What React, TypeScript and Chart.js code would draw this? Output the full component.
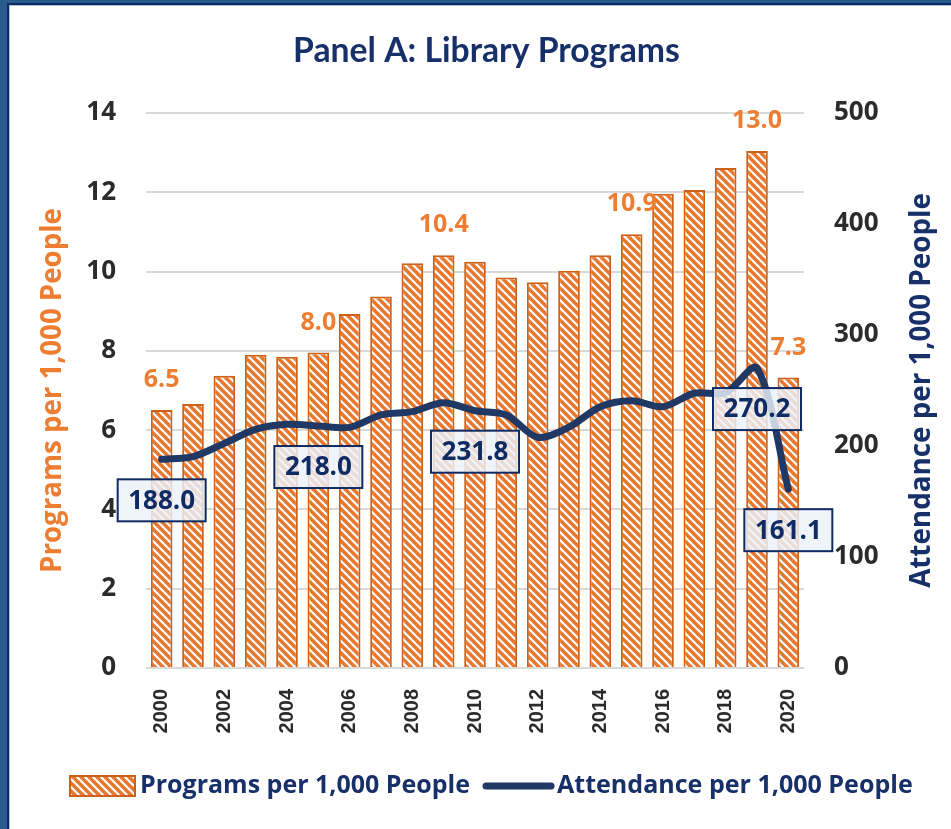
import React, { useEffect, useRef } from 'react';
import { Chart, registerables } from 'chart.js';

Chart.register(...registerables);

// ---------- data ----------
const years = ['2000', '2001', '2002', '2003', '2004', '2005', '2006', '2007', '2008', '2009', '2010',
  '2011', '2012', '2013', '2014', '2015', '2016', '2017', '2018', '2019', '2020'];
const programsPer1000 = [6.51, 6.66, 7.37, 7.9, 7.85, 7.96, 8.93, 9.37, 10.21, 10.41, 10.25,
  9.85, 9.73, 10.02, 10.41, 10.94, 11.96, 12.06, 12.61, 13.04, 7.33];
const attendancePer1000 = [188.0, 190.4, 202.4, 215.0, 219.5, 218.0, 216.8, 228.0, 231.0, 239.0, 231.8,
  228.0, 207.8, 217.0, 235.4, 240.8, 235.4, 247.5, 248.0, 270.2, 161.1];
const programLabelYears = ['2000', '2005', '2009', '2015', '2019', '2020'];
const attendanceLabelYears = ['2000', '2005', '2010', '2019', '2020'];
const leftAxisRange = [0, 14];
const leftAxisStep = 2;
const rightAxisRange = [0, 500];
const rightAxisStep = 100;

const TITLE = 'Panel A: Library Programs';
const PROGRAMS_NAME = 'Programs per 1,000 People';
const ATTEND_NAME = 'Attendance per 1,000 People';

// ---------- styles ----------
const FONT = '"Open Sans", "Noto Sans", sans-serif';
const TITLE_FONT = 'Lato, "Open Sans", sans-serif';
const TICK_FONT = '"Liberation Sans", Arial, sans-serif';
const NAVY = '#17306A';
const LINE_NAVY = '#1F3864';
const ORANGE_TEXT = '#ED7D31';
const STRIPE = '#E8772E';
const BAR_BORDER = '#CC6218';
const TICK_COLOR = '#2B2B2B';
const LEFT_PAD = 22;

function makeHatch(): CanvasPattern | string {
  const c = document.createElement('canvas');
  c.width = 8;
  c.height = 8;
  const g = c.getContext('2d');
  if (!g) return STRIPE;
  g.fillStyle = '#ffffff';
  g.fillRect(0, 0, 8, 8);
  g.strokeStyle = STRIPE;
  g.lineWidth = 3.4;
  for (const x0 of [-8, 0, 8]) {
    g.beginPath();
    g.moveTo(x0 - 2, -2);
    g.lineTo(x0 + 10, 10);
    g.stroke();
  }
  return g.createPattern(c, 'repeat') || STRIPE;
}

// font size so that text spans a given length
function fitSize(ctx: CanvasRenderingContext2D, text: string, family: string, target: number): number {
  ctx.save();
  ctx.font = `bold 20px ${family}`;
  const w = ctx.measureText(text).width || 1;
  ctx.restore();
  return (20 * target) / w;
}

function measureTitleSize(): number {
  const c = document.createElement('canvas');
  const g = c.getContext('2d');
  if (!g) return 32;
  return fitSize(g, TITLE, TITLE_FONT, 387);
}

export default function App() {
  const ref = useRef<HTMLCanvasElement | null>(null);

  useEffect(() => {
    const canvas = ref.current;
    if (!canvas) return;
    const hatch = makeHatch();
    const titleSize = measureTitleSize();
    const titleLine = titleSize * 1.2;
    const titleTop = 51 - titleLine / 2;
    const titleBottom = 113 - titleTop - titleLine;

    const customPlugin = {
      id: 'customDraw',
      beforeDraw(chart: any) {
        const { ctx, width, height } = chart;
        ctx.save();
        ctx.fillStyle = '#ffffff';
        ctx.fillRect(0, 0, width, height);
        ctx.restore();
      },
      afterDatasetsDraw(chart: any) {
        const ctx = chart.ctx as CanvasRenderingContext2D;
        const lineMeta = chart.getDatasetMeta(0);
        const barMeta = chart.getDatasetMeta(1);
        ctx.save();
        ctx.font = `bold 25px ${FONT}`;
        ctx.fillStyle = ORANGE_TEXT;
        ctx.textAlign = 'center';
        ctx.textBaseline = 'middle';
        programLabelYears.forEach((yr) => {
          const i = years.indexOf(yr);
          const el = barMeta.data[i];
          if (!el) return;
          ctx.fillText(programsPer1000[i].toFixed(1), el.x, el.y - 30);
        });
        attendanceLabelYears.forEach((yr) => {
          const i = years.indexOf(yr);
          const el = lineMeta.data[i];
          if (!el) return;
          const cx = el.x;
          const cy = el.y + 41;
          const w = 88;
          const h = 42;
          ctx.fillStyle = 'rgba(236,242,250,0.82)';
          ctx.fillRect(cx - w / 2, cy - h / 2, w, h);
          ctx.strokeStyle = '#0F2B63';
          ctx.lineWidth = 2;
          ctx.strokeRect(cx - w / 2, cy - h / 2, w, h);
          ctx.fillStyle = '#0F2B63';
          ctx.font = `bold 26px ${FONT}`;
          ctx.fillText(attendancePer1000[i].toFixed(1), cx, cy + 1);
        });
        ctx.restore();
      },
      afterDraw(chart: any) {
        const ctx = chart.ctx as CanvasRenderingContext2D;
        const area = chart.chartArea;
        const midY = (area.top + area.bottom) / 2;
        ctx.save();
        ctx.textAlign = 'center';
        ctx.textBaseline = 'middle';
        // left axis title
        ctx.font = `bold ${fitSize(ctx, PROGRAMS_NAME, FONT, 365)}px ${FONT}`;
        ctx.fillStyle = ORANGE_TEXT;
        ctx.save();
        ctx.translate(53, midY);
        ctx.rotate(-Math.PI / 2);
        ctx.fillText(PROGRAMS_NAME, 0, 0);
        ctx.restore();
        // right axis title
        ctx.font = `bold ${fitSize(ctx, ATTEND_NAME, FONT, 395)}px ${FONT}`;
        ctx.fillStyle = NAVY;
        ctx.save();
        ctx.translate(922, midY);
        ctx.rotate(-Math.PI / 2);
        ctx.fillText(ATTEND_NAME, 0, 0);
        ctx.restore();

        // legend
        const ly = 786;
        ctx.fillStyle = hatch as any;
        ctx.fillRect(70, ly - 10, 65, 20);
        ctx.strokeStyle = BAR_BORDER;
        ctx.lineWidth = 2;
        ctx.strokeRect(70, ly - 10, 65, 20);
        ctx.fillStyle = NAVY;
        ctx.textAlign = 'left';
        ctx.font = `bold ${fitSize(ctx, PROGRAMS_NAME, FONT, 330)}px ${FONT}`;
        ctx.fillText(PROGRAMS_NAME, 140, ly);
        ctx.strokeStyle = LINE_NAVY;
        ctx.lineWidth = 7;
        ctx.lineCap = 'round';
        ctx.beginPath();
        ctx.moveTo(486, ly);
        ctx.lineTo(551, ly);
        ctx.stroke();
        ctx.font = `bold ${fitSize(ctx, ATTEND_NAME, FONT, 356)}px ${FONT}`;
        ctx.fillText(ATTEND_NAME, 557, ly);

        // frame
        ctx.fillStyle = '#2A5B8A';
        ctx.fillRect(0, 0, 8, chart.height);
        ctx.fillRect(0, 0, chart.width, 3);
        ctx.fillStyle = '#0B2C62';
        ctx.fillRect(7, 3, 2, chart.height);
        ctx.fillRect(7, 3, chart.width, 2);
        ctx.fillStyle = '#A9C0DE';
        ctx.fillRect(9, 5, 1, chart.height);
        ctx.fillRect(9, 5, chart.width, 1);
        ctx.restore();
      },
    };

    const chart = new Chart(canvas, {
      type: 'bar',
      data: {
        labels: years,
        datasets: [
          {
            type: 'line',
            label: ATTEND_NAME,
            data: attendancePer1000,
            yAxisID: 'y1',
            borderColor: LINE_NAVY,
            borderWidth: 7,
            tension: 0.3,
            pointRadius: 0,
            borderCapStyle: 'round',
            borderJoinStyle: 'round',
            order: 0,
          } as any,
          {
            type: 'bar',
            label: PROGRAMS_NAME,
            data: programsPer1000,
            yAxisID: 'y',
            backgroundColor: hatch as any,
            borderColor: BAR_BORDER,
            borderWidth: 2,
            barPercentage: 0.69,
            categoryPercentage: 1,
            order: 1,
          } as any,
        ],
      },
      options: {
        responsive: false,
        animation: false,
        layout: { padding: { left: LEFT_PAD, right: 0, top: 0, bottom: 0 } },
        plugins: {
          legend: { display: false },
          tooltip: { enabled: false },
          title: {
            display: true,
            text: TITLE,
            color: NAVY,
            font: { family: TITLE_FONT, size: titleSize, weight: 'bold', lineHeight: 1.2 },
            padding: { top: titleTop, bottom: titleBottom },
          },
        },
        scales: {
          x: {
            grid: { display: false, drawTicks: false },
            border: { display: false },
            ticks: {
              autoSkip: false,
              minRotation: 90,
              maxRotation: 90,
              padding: 21,
              color: TICK_COLOR,
              font: { family: TICK_FONT, size: 20, weight: 'bold' },
              callback: (_v: any, i: number) => (i % 2 === 0 ? years[i] : ''),
            },
            afterFit: (s: any) => { s.height = 161; },
          },
          y: {
            position: 'left',
            min: leftAxisRange[0],
            max: leftAxisRange[1],
            grid: { color: '#D9D9D9', lineWidth: 2, drawTicks: false },
            border: { display: false },
            ticks: {
              stepSize: leftAxisStep,
              padding: 30,
              color: TICK_COLOR,
              font: { family: FONT, size: 26, weight: 'bold' },
            },
            afterFit: (s: any) => { s.width = 146 - LEFT_PAD; },
          },
          y1: {
            position: 'right',
            min: rightAxisRange[0],
            max: rightAxisRange[1],
            grid: { display: false, drawTicks: false },
            border: { display: false },
            ticks: {
              stepSize: rightAxisStep,
              padding: 30,
              color: TICK_COLOR,
              font: { family: FONT, size: 26, weight: 'bold' },
            },
            afterFit: (s: any) => { s.width = 147; },
          },
        },
      } as any,
      plugins: [customPlugin],
    });

    return () => chart.destroy();
  }, []);

  return (
    <div style={{ position: 'absolute', left: 0, top: 0, width: 951, height: 829, background: '#fff' }}>
      <canvas ref={ref} width={951} height={829} style={{ display: 'block', width: 951, height: 829 }} />
    </div>
  );
}
